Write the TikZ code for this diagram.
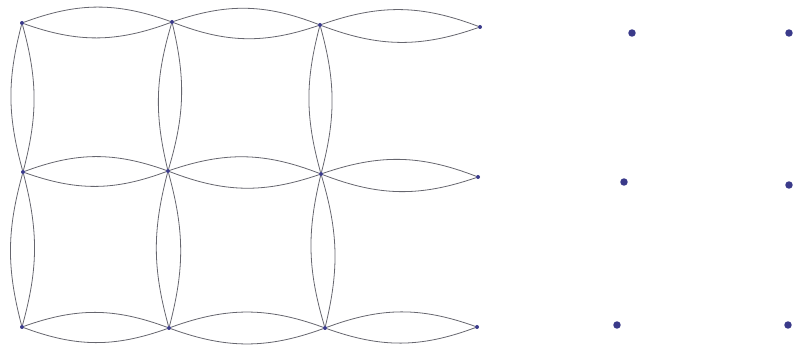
\documentclass[tikz,border=0pt]{standalone}
\usepackage{xcolor}
\usepackage{tikz}
\definecolor{edgegray}{HTML}{66666E}
\definecolor{dotblue}{HTML}{3A3A8A}

\begin{document}
\begin{tikzpicture}[x=0.75pt,y=-0.75pt,
    vtx/.style={circle,fill=dotblue,inner sep=0pt,minimum size=3pt},
    blob/.style={circle,fill=dotblue,inner sep=0pt,minimum size=5.6pt},
    lens/.style={edgegray,line width=0.6pt}]
  \useasboundingbox (0,0) rectangle (794,349);
  % vertices of the lens grid
  \foreach \n/\x/\y in {a1/22/23,a2/172/22,a3/320/25,a4/480/27,
                        b1/23/172,b2/168/171,b3/321/174,b4/478/177,
                        c1/22/327,c2/169/328,c3/325/328,c4/477/327}
    \node[vtx] (\n) at (\x,\y) {};
  % loose points on the right
  \foreach \n/\x/\y in {d1/632/33,e1/789/33,d2/624/182,e2/789/185,d3/617/325,e3/788/325}
    \node[blob] (\n) at (\x,\y) {};
  % horizontal lenses
  \foreach \u/\v in {a1/a2,a2/a3,a3/a4,b1/b2,b2/b3,b3/b4,c1/c2,c2/c3,c3/c4}
    \draw[lens] (\u) to[bend left=20] (\v) (\u) to[bend right=20] (\v);
  % vertical lenses
  \foreach \u/\v in {a1/b1,b1/c1,a2/b2,b2/c2,a3/b3,b3/c3}
    \draw[lens] (\u) to[bend left=15] (\v) (\u) to[bend right=15] (\v);
\end{tikzpicture}
\end{document}
